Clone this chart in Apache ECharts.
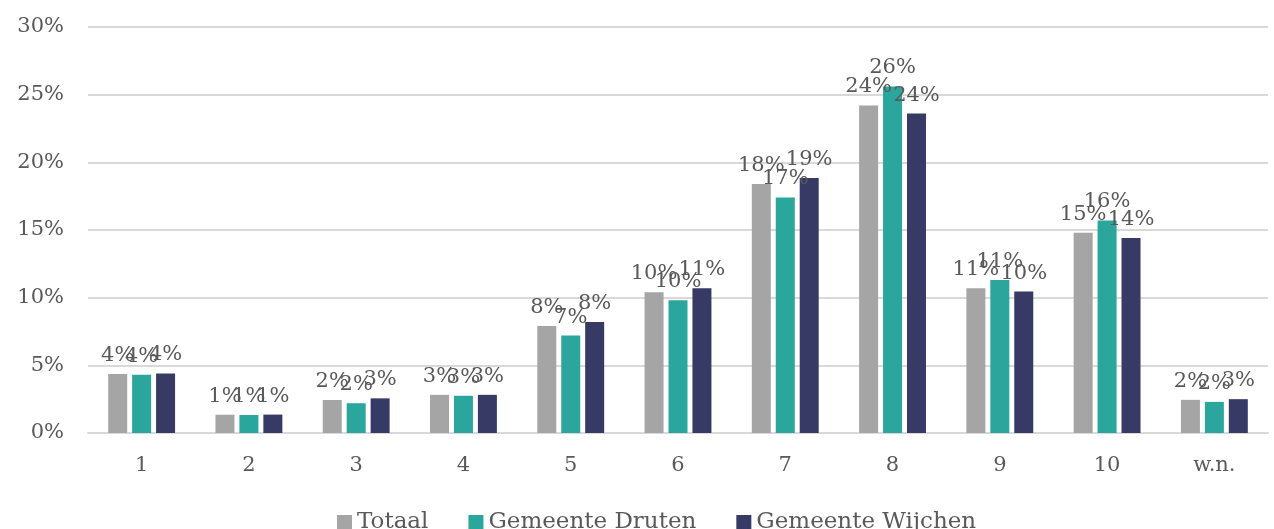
<!DOCTYPE html>
<html>
<head>
<meta charset="utf-8">
<script src="https://cdn.jsdelivr.net/npm/echarts@6/dist/echarts.min.js"></script>
<style>html,body{margin:0;padding:0;background:#fff}#c{width:1274px;height:529px}</style>
</head>
<body>
<div id="c"></div>
<script>
const categories = ['1','2','3','4','5','6','7','8','9','10','w.n.'];
const totaal  = [4.36, 1.35, 2.44, 2.82, 7.9, 10.4, 18.4, 24.2, 10.7, 14.8, 2.45];
const druten  = [4.3, 1.33, 2.2, 2.75, 7.2, 9.8, 17.4, 25.6, 11.3, 15.7, 2.3];
const wijchen = [4.4, 1.36, 2.56, 2.82, 8.2, 10.7, 18.85, 23.6, 10.45, 14.4, 2.5];
const yTicks = [0, 5, 10, 15, 20, 25, 30];

const FONT = 'DejaVu Serif';
const TXT = '#595959';
const chart = echarts.init(document.getElementById('c'));
function s(name, data, color) {
  return {
    name, type: 'bar', data, barWidth: 19, barGap: '26%',
    itemStyle: { color },
    label: { show: true, position: 'top', distance: 8, color: TXT, fontFamily: FONT, fontSize: 21,
      formatter: p => Math.round(p.value) + '%' }
  };
}
chart.setOption({
  animation: false,
  textStyle: { fontFamily: FONT },
  grid: { left: 88, right: 6, top: 27, bottom: 96, containLabel: false },
  legend: {
    left: 332, top: 506, itemWidth: 15, itemHeight: 15, itemGap: 40, icon: 'rect',
    textStyle: { color: TXT, fontFamily: FONT, fontSize: 23 },
    data: ['Totaal', 'Gemeente Druten', 'Gemeente Wijchen']
  },
  xAxis: {
    type: 'category', data: categories,
    axisLine: { lineStyle: { color: '#D9D9D9', width: 2 } },
    axisTick: { show: false },
    axisLabel: { color: TXT, fontFamily: FONT, fontSize: 21, margin: 22 }
  },
  yAxis: {
    type: 'value', min: yTicks[0], max: yTicks[yTicks.length - 1], interval: 5,
    axisLine: { show: false }, axisTick: { show: false },
    splitLine: { lineStyle: { color: '#D9D9D9', width: 2 } },
    axisLabel: { color: TXT, fontFamily: FONT, fontSize: 21, margin: 24, formatter: v => v + '%' }
  },
  series: [
    s('Totaal', totaal, '#A5A5A5'),
    s('Gemeente Druten', druten, '#2AA69C'),
    s('Gemeente Wijchen', wijchen, '#363A65')
  ]
});
</script>
</body>
</html>
